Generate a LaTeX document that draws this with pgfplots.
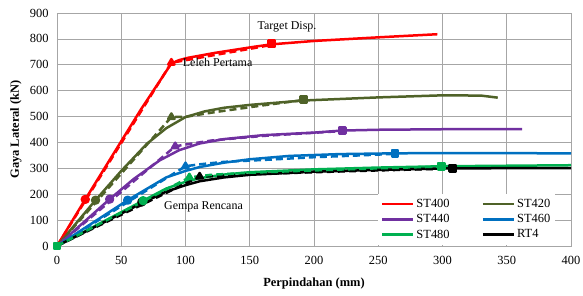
\documentclass[border=0pt]{standalone}
\usepackage{fontspec}
\setmainfont{Liberation Serif}
\usepackage{pgfplots}
\pgfplotsset{compat=1.18}
\definecolor{cST400}{HTML}{FF0000}
\definecolor{cST420}{HTML}{4F6228}
\definecolor{cST440}{HTML}{7030A0}
\definecolor{cST460}{HTML}{0070C0}
\definecolor{cST480}{HTML}{00B050}
\definecolor{cRT4}{HTML}{000000}
\definecolor{gridc}{HTML}{A6A6A6}
\begin{document}
\begin{tikzpicture}
\useasboundingbox (-57bp,-50bp) rectangle (526bp,246bp);
\begin{axis}[
  at={(0,0)}, anchor=south west,
  scale only axis, width=514bp, height=233bp,
  xmin=0, xmax=400, ymin=0, ymax=900,
  xtick={0,50,...,400}, ytick={0,100,...,900},
  grid=major, major grid style={gridc, line width=0.6pt},
  axis line style={gridc, line width=0.6pt},
  major tick length=0pt,
  tick label style={font=\fontsize{12.5}{14}\selectfont},
  /pgf/number format/assume math mode=true,
  xticklabel style={yshift=-7bp},
  yticklabel style={xshift=-5bp},
  xlabel={\textbf{Perpindahan (mm)}},
  ylabel={\textbf{Gaya Lateral (kN)}},
  xlabel style={at={(axis description cs:0.5,-0.159)}, anchor=center, font=\fontsize{12.5}{14}\selectfont},
  ylabel style={at={(axis description cs:-0.08,0.5)}, anchor=center, font=\fontsize{12.5}{14}\selectfont},
  legend columns=2,
  legend style={at={(axis cs:388,5)}, anchor=south east, draw=none, fill=white,
    font=\fontsize{12.5}{14}\selectfont, row sep=1.5bp, inner sep=3bp,
    /tikz/every even column/.append style={column sep=30bp}},
  legend cell align=left,
  legend image code/.code={\draw[#1] (0bp,0bp) -- (31bp,0bp);},
  every axis plot/.append style={line width=2.5bp, line join=round},
]
% solid curves (legend)
\addplot[cST400, no marks] coordinates {(0,0)(22,180)(65,525)(89,705)(95,718)(102,727)(123,746)(154,770)(167,779)(200,792)(250,806)(296,818)};
\addlegendentry{ST400}
\addplot[cST420, no marks] coordinates {(0,0)(30,177)(50,290)(70,395)(85,455)(100,498)(115,520)(130,534)(150,545)(192,562)(250,574)(300,582)(330,581)(343,573)};
\addlegendentry{ST420}
\addplot[cST440, no marks] coordinates {(0,0)(41,181)(60,260)(80,331)(95,370)(111,396)(130,413)(160,428)(200,438)(222,446)(250,449)(300,451)(362,451)};
\addlegendentry{ST440}
\addplot[cST460, no marks] coordinates {(0,0)(55,177)(85,265)(100,290)(111,305)(130,322)(150,335)(181,348)(220,355)(263,358)(300,359)(400,358)};
\addlegendentry{ST460}
\addplot[cST480, no marks] coordinates {(0,0)(67,175)(85,222)(100,248)(111,262)(130,276)(150,285)(200,296)(250,303)(300,308)(400,312)};
\addlegendentry{ST480}
\addplot[cRT4, no marks] coordinates {(0,0)(67,168)(85,210)(100,235)(111,250)(130,265)(150,275)(200,287)(250,294)(308,300)(400,301)};
\addlegendentry{RT4}
% dashed curves
\addplot[cST400, no marks, dash pattern=on 7bp off 4bp, forget plot] coordinates {(0,0)(89,708)(95,713)(123,738)(154,765)(167,777)};
\addplot[cST420, no marks, dash pattern=on 7bp off 4bp, forget plot] coordinates {(0,0)(89,498)(100,499)(124,518)(160,543)(192,564)};
\addplot[cST440, no marks, dash pattern=on 7bp off 4bp, forget plot] coordinates {(0,0)(92,385)(100,392)(121,408)(160,425)(189,434)(222,444)};
\addplot[cST460, no marks, dash pattern=on 7bp off 4bp, forget plot] coordinates {(0,0)(100,308)(110,315)(130,325)(163,333)(200,343)(236,350)(263,356)};
\addplot[cRT4, no marks, dash pattern=on 7bp off 4bp, forget plot] coordinates {(0,0)(111,268)(130,272)(150,277)(200,285)(250,292)(308,299)};
\addplot[cST480, no marks, dash pattern=on 7bp off 4bp, forget plot] coordinates {(0,0)(103,265)(120,275)(150,283)(200,292)(250,300)(300,307)};
% markers: circles (Gempa Rencana)
\addplot[cST400, only marks, mark=*, mark size=3.4bp, forget plot] coordinates {(22,180)};
\addplot[cST420, only marks, mark=*, mark size=3.4bp, forget plot] coordinates {(30,177)};
\addplot[cST440, only marks, mark=*, mark size=3.4bp, forget plot] coordinates {(41,181)};
\addplot[cST460, only marks, mark=*, mark size=3.4bp, forget plot] coordinates {(55,177)};
\addplot[cRT4, only marks, mark=*, mark size=3.4bp, forget plot] coordinates {(66,170)};
\addplot[cST480, only marks, mark=*, mark size=3.4bp, forget plot] coordinates {(67,175)};
% triangles (Leleh Pertama)
\addplot[cST400, only marks, mark=triangle*, mark size=3.6bp, forget plot] coordinates {(89,708)};
\addplot[cST420, only marks, mark=triangle*, mark size=3.6bp, forget plot] coordinates {(89,498)};
\addplot[cST440, only marks, mark=triangle*, mark size=3.6bp, forget plot] coordinates {(92,385)};
\addplot[cST460, only marks, mark=triangle*, mark size=3.6bp, forget plot] coordinates {(100,308)};
\addplot[cRT4, only marks, mark=triangle*, mark size=3.6bp, forget plot] coordinates {(111,268)};
\addplot[cST480, only marks, mark=triangle*, mark size=3.6bp, forget plot] coordinates {(103,265)};
% squares (Target Disp.)
\addplot[cST400, only marks, mark=square*, mark size=3.2bp, forget plot] coordinates {(167,781)};
\addplot[cST420, only marks, mark=square*, mark size=3.2bp, forget plot] coordinates {(192,566)};
\addplot[cST440, only marks, mark=square*, mark size=3.2bp, forget plot] coordinates {(222,446)};
\addplot[cST460, only marks, mark=square*, mark size=3.2bp, forget plot] coordinates {(263,358)};
\addplot[cRT4, only marks, mark=square*, mark size=3.2bp, forget plot] coordinates {(308,300)};
\addplot[cST480, only marks, mark=square*, mark size=3.2bp, forget plot] coordinates {(299,308)(0,0)};
% annotations
\node[font=\fontsize{12}{14}\selectfont] at (axis cs:179,846) {Target Disp.};
\node[font=\fontsize{12}{14}\selectfont] at (axis cs:125,708) {Leleh Pertama};
\node[font=\fontsize{12}{14}\selectfont] at (axis cs:114,150) {Gempa Rencana};
\end{axis}
\end{tikzpicture}
\end{document}
